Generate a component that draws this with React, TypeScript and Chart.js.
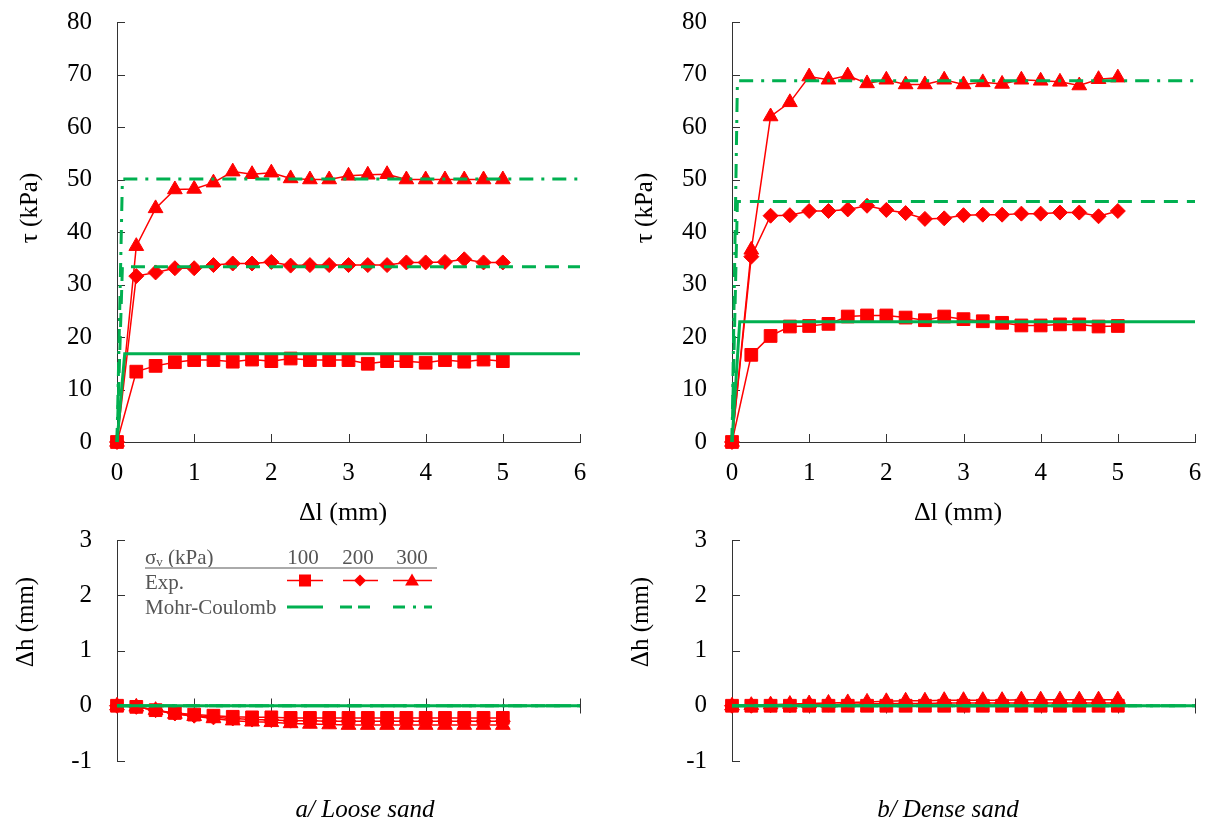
import React, { useEffect, useRef } from "react";
import { Chart, registerables } from "chart.js";

Chart.register(...registerables);

// ---------------- data ----------------
const xSteps = [0, 0.25, 0.5, 0.75, 1, 1.25, 1.5, 1.75, 2, 2.25, 2.5, 2.75, 3, 3.25, 3.5, 3.75, 4, 4.25, 4.5, 4.75, 5];

// shear stress tau (kPa), loose sand
const looseTau100 = [0, 13.4, 14.5, 15.2, 15.6, 15.6, 15.3, 15.7, 15.4, 15.9, 15.6, 15.6, 15.6, 14.9, 15.4, 15.4, 15.1, 15.6, 15.3, 15.7, 15.4];
const looseTau200 = [0, 31.6, 32.3, 33.1, 33.1, 33.7, 34.0, 34.0, 34.3, 33.6, 33.7, 33.7, 33.7, 33.7, 33.7, 34.2, 34.2, 34.3, 34.8, 34.2, 34.2];
const looseTau300 = [0, 37.3, 44.5, 48.1, 48.2, 49.4, 51.5, 51.0, 51.3, 50.2, 50.0, 50.0, 50.7, 50.9, 51.0, 50.0, 50.0, 50.0, 50.0, 50.0, 50.0];

// shear stress tau (kPa), dense sand
const denseTau100 = [0, 16.6, 20.2, 22.0, 22.1, 22.5, 23.9, 24.1, 24.1, 23.7, 23.2, 23.9, 23.4, 23.0, 22.7, 22.2, 22.2, 22.4, 22.4, 22.0, 22.1];
const denseTau200 = [0, 35.3, 43.1, 43.2, 44.0, 44.0, 44.3, 45.0, 44.2, 43.6, 42.5, 42.6, 43.2, 43.3, 43.3, 43.5, 43.5, 43.7, 43.7, 43.0, 44.0];
const denseTau300 = [0, 36.6, 62.0, 64.7, 69.6, 69.0, 69.8, 68.3, 69.0, 68.1, 68.1, 69.0, 68.1, 68.5, 68.2, 69.0, 68.8, 68.6, 67.9, 69.1, 69.4];

// Mohr-Coulomb model curves
const mcSolidX = [0, 0.1, 6];
const mcDashX = [0, 0.07, 6];
const looseMc100 = [0, 16.8, 16.8];
const looseMc200 = [0, 33.4, 33.4];
const looseMc300 = [0, 50.1, 50.1];
const denseMc100 = [0, 22.9, 22.9];
const denseMc200 = [0, 45.8, 45.8];
const denseMc300 = [0, 68.8, 68.8];
const mcDh = [0, 0, 0];

// vertical displacement dh (mm)
const looseDh100 = [0, -0.02, -0.08, -0.13, -0.16, -0.18, -0.2, -0.21, -0.21, -0.22, -0.22, -0.22, -0.22, -0.22, -0.22, -0.22, -0.22, -0.22, -0.22, -0.22, -0.22];
const looseDh200 = [0, -0.02, -0.08, -0.14, -0.18, -0.21, -0.23, -0.25, -0.26, -0.27, -0.27, -0.28, -0.28, -0.28, -0.28, -0.28, -0.28, -0.28, -0.28, -0.28, -0.28];
const looseDh300 = [0, -0.02, -0.08, -0.15, -0.19, -0.23, -0.27, -0.29, -0.3, -0.32, -0.33, -0.34, -0.35, -0.35, -0.35, -0.35, -0.35, -0.35, -0.35, -0.35, -0.35];
const denseDh100 = [0, 0, 0, 0, 0, 0, 0, 0, 0, 0, 0, 0, 0, 0, 0, 0, 0, 0, 0, 0, 0];
const denseDh200 = [0, 0, 0.01, 0.01, 0.02, 0.02, 0.03, 0.03, 0.04, 0.04, 0.04, 0.05, 0.05, 0.05, 0.05, 0.05, 0.05, 0.05, 0.05, 0.05, 0.05];
const denseDh300 = [0, 0.01, 0.02, 0.03, 0.04, 0.05, 0.06, 0.07, 0.08, 0.09, 0.09, 0.1, 0.1, 0.1, 0.1, 0.11, 0.11, 0.11, 0.11, 0.11, 0.11];

const legendHeader = "σ";
const legendSub = "v";
const legendUnit = " (kPa)";
const legendLevels = ["100", "200", "300"];
const legendExp = "Exp.";
const legendMc = "Mohr-Coulomb";

// ---------------- styles ----------------
const RED = "#ff0000";
const GREEN = "#00b050";
const AXIS = "#333333";
const SERIF = "'Liberation Serif', 'Times New Roman', serif";
const DASH = [14, 9];
const DASHDOT = [14, 8, 3, 8];

Chart.defaults.font.family = SERIF;

const pts = (xs: number[], ys: number[]) => xs.map((x, i) => ({ x, y: ys[i] }));

function expSet(ys: number[], style: string, radius: number) {
  return {
    data: pts(xSteps, ys),
    borderColor: RED,
    backgroundColor: RED,
    borderWidth: 1.5,
    pointStyle: style,
    pointRadius: radius,
    pointBorderWidth: 1,
    pointBorderColor: RED,
    pointBackgroundColor: RED,
    tension: 0,
    clip: false,
    order: 1,
  };
}

function mcSet(xs: number[], ys: number[], dash: number[]) {
  return {
    data: pts(xs, ys),
    borderColor: GREEN,
    backgroundColor: GREEN,
    borderWidth: 3,
    borderDash: dash,
    pointRadius: 0,
    tension: 0,
    clip: false,
    order: 0,
  };
}

function drawTriangle(ctx: CanvasRenderingContext2D, x: number, y: number, r: number) {
  ctx.beginPath();
  ctx.moveTo(x, y - r);
  ctx.lineTo(x + r * 0.866, y + r / 2);
  ctx.lineTo(x - r * 0.866, y + r / 2);
  ctx.closePath();
  ctx.fill();
}

const annotPlugin = {
  id: "annot",
  beforeDatasetsDraw(chart: any, _a: any, opts: any) {
    const { ctx, chartArea, scales } = chart;
    const x = scales.x;
    const y = scales.y;
    ctx.save();
    ctx.strokeStyle = AXIS;
    ctx.lineWidth = 1;
    ctx.beginPath();
    y.ticks.forEach((t: any) => {
      const py = Math.round(y.getPixelForValue(t.value)) + 0.5;
      ctx.moveTo(chartArea.left, py);
      ctx.lineTo(chartArea.left + 8, py);
    });
    if (opts.xAtZero) {
      const y0 = Math.round(y.getPixelForValue(0)) + 0.5;
      ctx.moveTo(chartArea.left, y0);
      ctx.lineTo(chartArea.right, y0);
      x.ticks.forEach((t: any) => {
        if (t.value === 0) return;
        const px = Math.round(x.getPixelForValue(t.value)) + 0.5;
        ctx.moveTo(px, y0 - 8);
        ctx.lineTo(px, y0 + 7);
      });
    } else {
      x.ticks.forEach((t: any) => {
        if (t.value === 0) return;
        const px = Math.round(x.getPixelForValue(t.value)) + 0.5;
        ctx.moveTo(px, chartArea.bottom);
        ctx.lineTo(px, chartArea.bottom - 8);
      });
    }
    ctx.stroke();
    ctx.restore();
  },
  afterDraw(chart: any, _a: any, opts: any) {
    const { ctx } = chart;
    ctx.save();
    (opts.texts || []).forEach((t: any) => {
      ctx.save();
      ctx.translate(t.x, t.y);
      if (t.rotate) ctx.rotate(-Math.PI / 2);
      ctx.font = t.font;
      ctx.fillStyle = t.color || "#000";
      ctx.textAlign = "center";
      ctx.textBaseline = "middle";
      ctx.fillText(t.text, 0, 0);
      ctx.restore();
    });
    if (opts.legend) {
      const g = "#555555";
      ctx.fillStyle = g;
      ctx.textBaseline = "middle";
      ctx.textAlign = "left";
      ctx.font = `21px ${SERIF}`;
      ctx.fillText(legendHeader, 145, 28);
      let w = ctx.measureText(legendHeader).width;
      ctx.font = `13px ${SERIF}`;
      ctx.fillText(legendSub, 145 + w, 33);
      w += ctx.measureText(legendSub).width;
      ctx.font = `21px ${SERIF}`;
      ctx.fillText(legendUnit, 145 + w, 28);
      ctx.textAlign = "center";
      const cols = [303, 358, 412];
      legendLevels.forEach((s, i) => ctx.fillText(s, cols[i], 28));
      ctx.textAlign = "left";
      ctx.fillText(legendExp, 145, 53);
      ctx.fillText(legendMc, 145, 78);
      // header rule
      ctx.strokeStyle = "#aaaaaa";
      ctx.lineWidth = 2;
      ctx.beginPath();
      ctx.moveTo(145, 38);
      ctx.lineTo(437, 38);
      ctx.stroke();
      // exp samples
      ctx.strokeStyle = RED;
      ctx.fillStyle = RED;
      ctx.lineWidth = 1.5;
      const ey = 50.5;
      ctx.beginPath();
      ctx.moveTo(287, ey); ctx.lineTo(323, ey);
      ctx.moveTo(343, ey); ctx.lineTo(378, ey);
      ctx.moveTo(393, ey); ctx.lineTo(432, ey);
      ctx.stroke();
      ctx.fillRect(305 - 6, ey - 6, 12, 12);
      ctx.beginPath();
      ctx.moveTo(360 - 6, ey); ctx.lineTo(360, ey - 6); ctx.lineTo(360 + 6, ey); ctx.lineTo(360, ey + 6);
      ctx.closePath();
      ctx.fill();
      drawTriangle(ctx, 412, ey + 1, 8);
      // MC samples
      const my = 77;
      ctx.strokeStyle = GREEN;
      ctx.lineWidth = 3;
      ctx.setLineDash([]);
      ctx.beginPath(); ctx.moveTo(287, my); ctx.lineTo(323, my); ctx.stroke();
      ctx.setLineDash([12, 6]);
      ctx.beginPath(); ctx.moveTo(340, my); ctx.lineTo(372, my); ctx.stroke();
      ctx.setLineDash([12, 8, 3, 8]);
      ctx.beginPath(); ctx.moveTo(393, my); ctx.lineTo(432, my); ctx.stroke();
      ctx.setLineDash([]);
    }
    ctx.restore();
  },
};

const tickFont = { size: 25, family: SERIF };

const fitY = (s: any) => { s.width = 117; s.paddingTop = 0; s.paddingBottom = 0; };

function tauConfig(t100: number[], t200: number[], t300: number[], m100: number[], m200: number[], m300: number[]) {
  return {
    type: "line",
    data: {
      datasets: [
        mcSet(mcSolidX, m100, []),
        mcSet(mcDashX, m200, DASH),
        mcSet(mcDashX, m300, DASHDOT),
        expSet(t100, "rect", 9),
        expSet(t200, "rectRot", 7.5),
        expSet(t300, "triangle", 8.5),
      ],
    },
    options: {
      animation: false,
      responsive: false,
      maintainAspectRatio: false,
      layout: { padding: { top: 22, right: 20, left: 0, bottom: 0 } },
      plugins: {
        legend: { display: false },
        tooltip: { enabled: false },
        annot: {
          texts: [
            { text: "τ (kPa)", x: 30, y: 208, rotate: true, font: `25px ${SERIF}` },
            { text: "Δl (mm)", x: 343, y: 513, font: `26px ${SERIF}` },
          ],
        },
      },
      scales: {
        x: {
          type: "linear",
          min: 0,
          max: 6,
          ticks: { stepSize: 1, padding: 16, font: tickFont, color: "#000", maxRotation: 0, autoSkip: false },
          grid: { display: false, drawTicks: false },
          border: { display: true, color: AXIS, width: 1 },
          afterFit: (s: any) => { s.height = 88; s.paddingLeft = 0; s.paddingRight = 0; },
        },
        y: {
          type: "linear",
          min: 0,
          max: 80,
          ticks: { stepSize: 10, padding: 25, font: tickFont, color: "#000", autoSkip: false },
          grid: { display: false, drawTicks: false },
          border: { display: true, color: AXIS, width: 1 },
          afterFit: fitY,
        },
      },
    },
    plugins: [annotPlugin],
  };
}

function dhConfig(d100: number[], d200: number[], d300: number[], caption: string, captionX: number, legend: boolean) {
  return {
    type: "line",
    data: {
      datasets: [
        mcSet(mcSolidX, mcDh, []),
        mcSet(mcDashX, mcDh, DASH),
        mcSet(mcDashX, mcDh, DASHDOT),
        expSet(d100, "rect", 9),
        expSet(d200, "rectRot", 7.5),
        expSet(d300, "triangle", 8.5),
      ],
    },
    options: {
      animation: false,
      responsive: false,
      maintainAspectRatio: false,
      layout: { padding: { top: 8, right: 20, left: 0, bottom: 64 } },
      plugins: {
        legend: { display: false },
        tooltip: { enabled: false },
        annot: {
          xAtZero: true,
          legend,
          texts: [
            { text: "Δh (mm)", x: 26, y: 92, rotate: true, font: `25px ${SERIF}` },
            { text: caption, x: captionX, y: 280, font: `italic 25px ${SERIF}` },
          ],
        },
      },
      scales: {
        x: {
          type: "linear",
          display: false,
          min: 0,
          max: 6,
          ticks: { stepSize: 1 },
        },
        y: {
          type: "linear",
          min: -1,
          max: 3,
          ticks: { stepSize: 1, padding: 25, font: tickFont, color: "#000", autoSkip: false },
          grid: { display: false, drawTicks: false },
          border: { display: true, color: AXIS, width: 1 },
          afterFit: fitY,
        },
      },
    },
    plugins: [annotPlugin],
  };
}

function ChartBox(props: { left: number; top: number; width: number; height: number; make: () => any }) {
  const ref = useRef<HTMLCanvasElement>(null);
  useEffect(() => {
    const chart = new Chart(ref.current as HTMLCanvasElement, props.make());
    return () => chart.destroy();
  }, []);
  return (
    <canvas
      ref={ref}
      width={props.width}
      height={props.height}
      style={{ position: "absolute", left: props.left, top: props.top, width: props.width, height: props.height }}
    />
  );
}

export default function App() {
  return (
    <div style={{ position: "absolute", left: 0, top: 0, width: 1211, height: 825, background: "#fff", overflow: "hidden" }}>
      <ChartBox left={0} top={0} width={600} height={530}
        make={() => tauConfig(looseTau100, looseTau200, looseTau300, looseMc100, looseMc200, looseMc300)} />
      <ChartBox left={615} top={0} width={600} height={530}
        make={() => tauConfig(denseTau100, denseTau200, denseTau300, denseMc100, denseMc200, denseMc300)} />
      <ChartBox left={0} top={530} width={600} height={295}
        make={() => dhConfig(looseDh100, looseDh200, looseDh300, "a/ Loose sand", 365, true)} />
      <ChartBox left={615} top={530} width={600} height={295}
        make={() => dhConfig(denseDh100, denseDh200, denseDh300, "b/ Dense sand", 333, false)} />
    </div>
  );
}
